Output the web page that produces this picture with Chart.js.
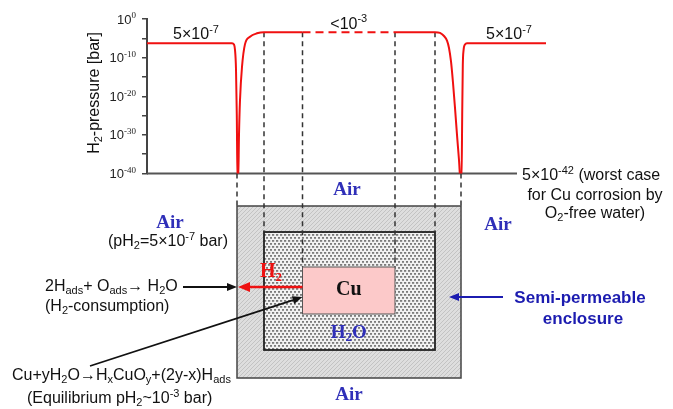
<!DOCTYPE html>
<html>
<head>
<meta charset="utf-8">
<script src="https://cdn.jsdelivr.net/npm/chart.js@4/dist/chart.umd.min.js"></script>
<style>
html,body{margin:0;padding:0;background:#fff}
#wrap{width:673px;height:409px}
</style>
</head>
<body>
<div id="wrap"><canvas id="c" width="673" height="409"></canvas></div>
<script>
// position across the cross-section (arbitrary units) and log10 of the H2 pressure [bar]
const xPos = [0, 85, 87, 88, 89, 89.8, 90.5,
  91.2, 92, 93, 95, 98, 103, 110, 117,
  155.5, 248,
  288, 293, 297, 300, 302, 304, 306, 308, 310, 312, 313.5,
  314.5, 315.2, 315.8, 316.6, 318, 320, 399];
const logP = [-6.3, -6.3, -6.6, -8, -13, -25, -42,
  -42, -30, -21, -12.4, -6.5, -4.6, -3.7, -3.4,
  -3.4, -3.4,
  -3.4, -3.6, -4.4, -5.6, -7.5, -11, -16.5, -23, -30, -36.5, -42,
  -42, -25, -12, -8, -6.6, -6.3, -6.3];
// the <10^-3 stretch over the Cu piece is only an upper bound, drawn dashed
const dashFrom = 155.5, dashTo = 248;
// zone edges: enclosure, water, Cu, Cu, water, enclosure
const zoneEdges = [90, 117, 155.5, 248, 288, 314];
const xAxisEnd = 370;
const yMin = -40, yMax = 0, yStep = 5;
const yLabelEvery = 10;

const SANS = '"Liberation Sans", Arial, sans-serif';
const SERIF = '"Liberation Serif", "Times New Roman", serif';
const BLUE = '#2f2fb8';

// text with sub/superscripts: plain strings, [t,'_'] subscript, [t,'^'] superscript
function rich(ctx, parts, x, y, o){
  const size = o.size, small = Math.round(size*(o.ratio||0.66));
  const fnt = (s, fam) => `${o.weight||'normal'} ${s}px ${fam||o.family||SANS}`;
  const items = parts.map(p => typeof p==='string' ? {t:p, s:size, dy:0}
    : {t:p[0], s:small, dy: p[1]==='_' ? size*0.26 : -size*0.3, fam:o.supFamily});
  let w = 0;
  items.forEach(it=>{ ctx.font = fnt(it.s, it.fam); it.w = ctx.measureText(it.t).width; w += it.w; });
  let cx = o.align==='left' ? x : (o.align==='right' ? x-w : x-w/2);
  ctx.fillStyle = o.color || '#111';
  ctx.textAlign = 'left';
  ctx.textBaseline = 'middle';
  items.forEach(it=>{ ctx.font = fnt(it.s, it.fam); ctx.fillText(it.t, cx, y+it.dy); cx += it.w; });
}

function arrow(ctx, x1, y1, x2, y2, color, lw, hl, hw){
  const a = Math.atan2(y2-y1, x2-x1);
  const bx = x2-hl*Math.cos(a), by = y2-hl*Math.sin(a);
  ctx.strokeStyle = color; ctx.lineWidth = lw; ctx.setLineDash([]);
  ctx.beginPath(); ctx.moveTo(x1,y1); ctx.lineTo(bx,by); ctx.stroke();
  ctx.fillStyle = color;
  ctx.beginPath(); ctx.moveTo(x2,y2);
  ctx.lineTo(bx + hw/2*Math.sin(a), by - hw/2*Math.cos(a));
  ctx.lineTo(bx - hw/2*Math.sin(a), by + hw/2*Math.cos(a));
  ctx.closePath(); ctx.fill();
}

function makePattern(ctx, w, h, draw){
  const c = document.createElement('canvas');
  c.width = w; c.height = h;
  draw(c.getContext('2d'));
  return ctx.createPattern(c, 'repeat');
}

// enclosure sketch below the plot (vertical placement in pixels)
const sketch = {outerTop:206, outerBottom:378, innerTop:232, innerBottom:350, cuTop:267, cuBottom:314, h2Row:287};

const sketchPlugin = {
  id: 'sketch',
  beforeDatasetsDraw(chart){
    const ctx = chart.ctx, xs = chart.scales.x, ys = chart.scales.y;
    const X = v => xs.getPixelForValue(v);
    const e = zoneEdges.map(X);
    const S = sketch;
    ctx.save();
    // x axis line, shorter than the curve
    ctx.strokeStyle = '#555'; ctx.lineWidth = 2;
    ctx.beginPath(); ctx.moveTo(chart.chartArea.left, chart.chartArea.bottom); ctx.lineTo(X(xAxisEnd), chart.chartArea.bottom); ctx.stroke();

    const hatch = makePattern(ctx, 4, 4, g=>{
      g.fillStyle = '#dedede'; g.fillRect(0,0,4,4);
      g.strokeStyle = '#bdbdbd'; g.lineWidth = 0.8;
      g.beginPath(); g.moveTo(0,4); g.lineTo(4,0); g.stroke();
    });
    const dots = makePattern(ctx, 4, 6, g=>{
      g.fillStyle = '#f2f2f2'; g.fillRect(0,0,4,6);
      g.fillStyle = '#7c7c7c'; g.fillRect(0,0,2.2,1.8); g.fillRect(2,3,2.2,1.8);
    });
    ctx.fillStyle = hatch; ctx.fillRect(e[0], S.outerTop, e[5]-e[0], S.outerBottom-S.outerTop);
    ctx.strokeStyle = '#444'; ctx.lineWidth = 1.5;
    ctx.strokeRect(e[0], S.outerTop, e[5]-e[0], S.outerBottom-S.outerTop);
    ctx.fillStyle = dots; ctx.fillRect(e[1], S.innerTop, e[4]-e[1], S.innerBottom-S.innerTop);
    ctx.strokeStyle = '#222'; ctx.lineWidth = 1.8;
    ctx.strokeRect(e[1], S.innerTop, e[4]-e[1], S.innerBottom-S.innerTop);
    ctx.fillStyle = '#fcc9c9'; ctx.fillRect(e[2], S.cuTop, e[3]-e[2], S.cuBottom-S.cuTop);
    ctx.strokeStyle = '#555'; ctx.lineWidth = 1;
    ctx.strokeRect(e[2], S.cuTop, e[3]-e[2], S.cuBottom-S.cuTop);

    // dashed guides from the curve down to the sketch
    const top = ys.getPixelForValue(-3.4), bot = chart.chartArea.bottom;
    const guides = [[e[0], bot, S.outerTop], [e[5], bot, S.outerTop],
      [e[1], top, S.innerTop], [e[4], top, S.innerTop],
      [e[2], top, S.cuTop], [e[3], top, S.cuTop]];
    ctx.strokeStyle = '#333'; ctx.lineWidth = 1.5; ctx.setLineDash([5,4]);
    guides.forEach(([x,y1,y2])=>{ ctx.beginPath(); ctx.moveTo(x,y1); ctx.lineTo(x,y2); ctx.stroke(); });
    ctx.restore();
  },
  afterDraw(chart){
    const ctx = chart.ctx, xs = chart.scales.x, ys = chart.scales.y;
    const X = v => xs.getPixelForValue(v);
    const e = zoneEdges.map(X);
    const S = sketch;
    ctx.save();
    // y tick labels as 10^n with a real superscript
    ys.ticks.forEach(t=>{
      if (t.value % yLabelEvery !== 0) return;
      rich(ctx, ['10',[String(t.value),'^']], ys.right - 11, ys.getPixelForValue(t.value)+1,
        {size:13, ratio:0.7, align:'right', color:'#222', supFamily:SERIF});
    });
    // axis title
    ctx.save(); ctx.translate(95, 93); ctx.rotate(-Math.PI/2);
    rich(ctx, ['H',['2','_'],'-pressure [bar]'], 0, 0, {size:16});
    ctx.restore();
    // curve labels
    const lvl = ys.getPixelForValue(-6.3) - 9;
    rich(ctx, ['5\u00d710',['-7','^']], X(49), lvl, {size:16});
    rich(ctx, ['5\u00d710',['-7','^']], X(362), lvl, {size:16});
    rich(ctx, ['<10',['-3','^']], (e[2]+e[3])/2, ys.getPixelForValue(-3.4)-8, {size:16});
    const ax = X(xAxisEnd) + 5, ay = chart.chartArea.bottom + 2;
    rich(ctx, ['5\u00d710',['-42','^'],' (worst case'], ax, ay, {size:16, align:'left'});
    rich(ctx, ['for Cu corrosion by'], 595, ay+20, {size:16});
    rich(ctx, ['O',['2','_'],'-free water)'], 595, ay+38, {size:16});

    // sketch labels
    const mid = (e[0]+e[5])/2;
    const air = {size:19, weight:'bold', family:SERIF, color:BLUE};
    rich(ctx, ['Air'], mid-2, 190, air);
    rich(ctx, ['Air'], 170, 223, air);
    rich(ctx, ['Air'], 498, 225, air);
    rich(ctx, ['Air'], mid, 395, air);
    rich(ctx, ['(pH',['2','_'],'=5\u00d710',['-7','^'],' bar)'], 168, 242, {size:16});
    rich(ctx, ['Cu'], (e[2]+e[3])/2, 290, {size:20, weight:'bold', family:SERIF, color:'#111'});
    rich(ctx, ['H',['2','_'],'O'], (e[2]+e[3])/2, 333, {size:19, weight:'bold', family:SERIF, color:BLUE});
    rich(ctx, ['H',['2','_']], 271, 272, {size:20, weight:'bold', family:SERIF, color:'#ee1111'});
    arrow(ctx, e[2], S.h2Row, e[0]+1, S.h2Row, '#ee1111', 2.5, 12, 10);

    rich(ctx, ['2H',['ads','_'],'+ O',['ads','_'],'\u2192 H',['2','_'],'O'], 45, S.h2Row, {size:16, align:'left'});
    rich(ctx, ['(H',['2','_'],'-consumption)'], 45, 307, {size:16, align:'left'});
    arrow(ctx, 183, S.h2Row, e[0], S.h2Row, '#111', 1.8, 10, 8);

    rich(ctx, ['Cu+yH',['2','_'],'O\u2192H',['x','_'],'CuO',['y','_'],'+(2y-x)H',['ads','_']], 12, 376, {size:16, align:'left'});
    rich(ctx, ['(Equilibrium pH',['2','_'],'~10',['-3','^'],' bar)'], 27, 399, {size:16, align:'left'});
    arrow(ctx, 90, 366, e[2], 297, '#111', 1.8, 10, 8);

    arrow(ctx, 503, 297, e[5]-12, 297, '#1c1cb0', 2, 10, 8);
    rich(ctx, ['Semi-permeable'], 580, 298, {size:17, weight:'bold', color:'#1c1cb0'});
    rich(ctx, ['enclosure'], 583, 319, {size:17, weight:'bold', color:'#1c1cb0'});
    ctx.restore();
  }
};

const data = xPos.map((x,i)=>({x, y:logP[i]}));

new Chart(document.getElementById('c'), {
  type: 'line',
  data: {
    datasets: [{
      label: 'H2 pressure',
      data,
      borderColor: '#f01010',
      borderWidth: 2,
      pointRadius: 0,
      cubicInterpolationMode: 'monotone',
      segment: {
        borderDash: c => (c.p0.parsed.x >= dashFrom && c.p1.parsed.x <= dashTo) ? [8,5] : undefined
      }
    }]
  },
  options: {
    responsive: false,
    animation: false,
    devicePixelRatio: 1,
    layout: { padding: { top: 19, right: 127, bottom: 235.5, left: 0 } },
    plugins: { legend: { display: false }, tooltip: { enabled: false } },
    scales: {
      x: { type: 'linear', min: 0, max: 399, display: false },
      y: {
        type: 'linear', min: yMin, max: yMax,
        afterFit: s => { s.width = 147; },
        border: { color: '#444', width: 2 },
        grid: { display: true, drawOnChartArea: false, drawTicks: true, tickLength: 5, color: '#444', lineWidth: 1.5 },
        // labels are drawn by the sketch plugin so the exponent can be a real superscript
        ticks: { stepSize: yStep, autoSkip: false, callback: () => '' }
      }
    }
  },
  plugins: [sketchPlugin]
});
</script>
</body>
</html>
